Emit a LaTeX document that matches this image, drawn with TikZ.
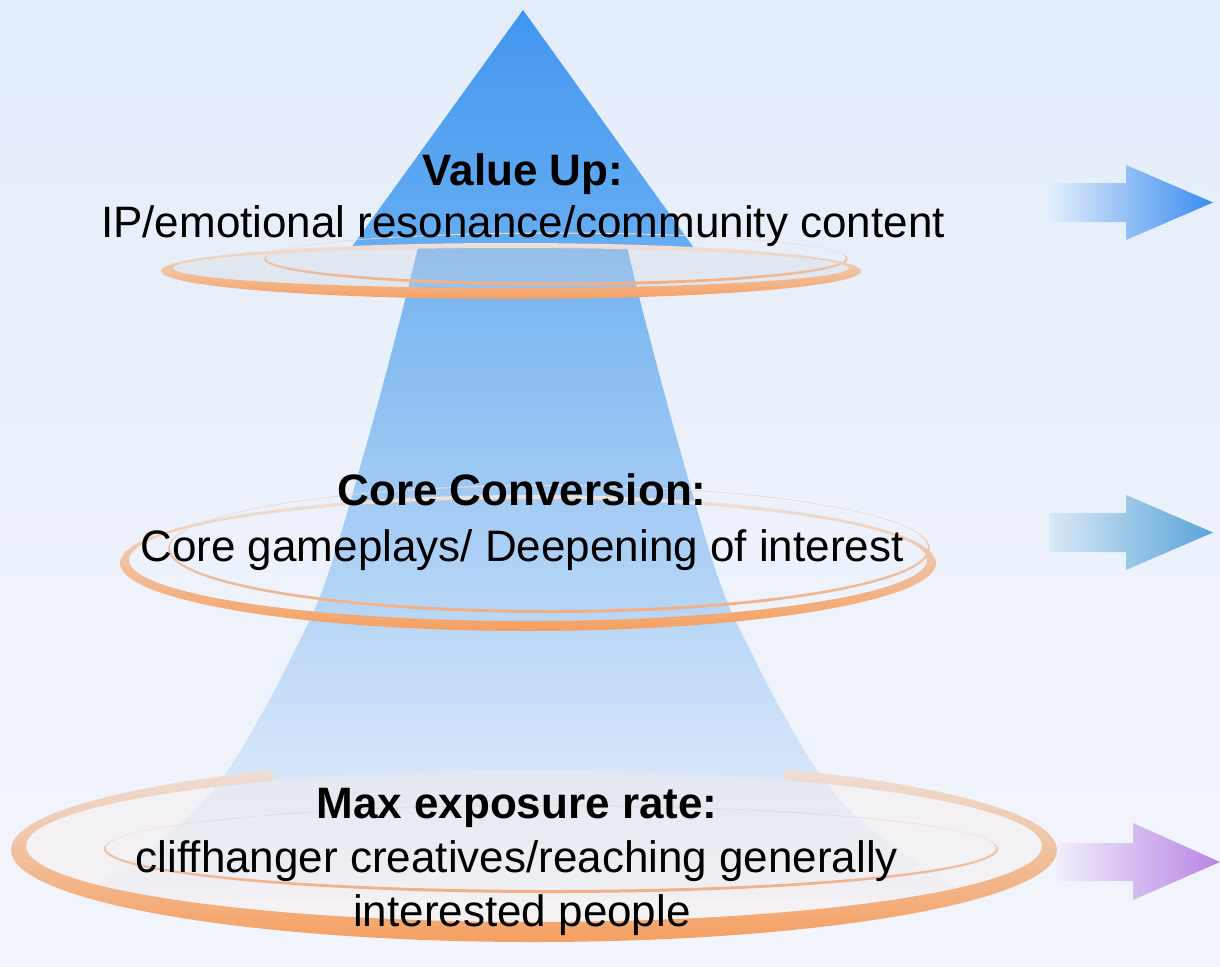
\documentclass[tikz,border=0pt]{standalone}
\usepackage{fontspec}
\setmainfont{Liberation Sans}
\definecolor{bgtop}{HTML}{E3EDFA}
\definecolor{bgbot}{HTML}{F3F5FC}
\definecolor{tritop}{HTML}{4296F0}
\definecolor{tribot}{HTML}{66ADF2}
\definecolor{shafttop}{HTML}{72B2F0}
\definecolor{shaftmid}{HTML}{A9CFF3}
\definecolor{shaftbot}{HTML}{EEF2FB}
\definecolor{ringback}{HTML}{EEE2DC}
\definecolor{ringmid}{HTML}{F7B68C}
\definecolor{ringfront}{HTML}{F5A062}
\definecolor{thinback}{HTML}{EEDDD4}
\definecolor{thinmid}{HTML}{F2C4A6}
\definecolor{thinfront}{HTML}{F2AE82}
\definecolor{a1l}{HTML}{E3EEFB}
\definecolor{a1m}{HTML}{A6CBF5}
\definecolor{a1r}{HTML}{3A8CF0}
\definecolor{a2l}{HTML}{D9E9F6}
\definecolor{a2m}{HTML}{A2CBEE}
\definecolor{a2r}{HTML}{58A4DA}
\definecolor{a3l}{HTML}{F1EEFB}
\definecolor{a3m}{HTML}{DDCCF3}
\definecolor{a3r}{HTML}{B784E4}
\definecolor{grayin}{HTML}{D6DAE0}
\definecolor{warmin}{HTML}{FBEDE6}
\definecolor{edgeband}{HTML}{DCE5F0}
\begin{document}
\begin{tikzpicture}[x=1pt,y=-1pt,
  lbl/.style={inner sep=0pt, font=\fontsize{44}{52}\selectfont, text=black},
  lblb/.style={inner sep=0pt, font=\fontsize{44}{52}\selectfont\bfseries, text=black},
  thickring/.style={top color=ringback, middle color=ringmid, bottom color=ringfront, even odd rule},
  thinring/.style={top color=thinback, middle color=thinmid, bottom color=thinfront, even odd rule},
  ]
\useasboundingbox (0,0) rectangle (1220,966);
% background
\shade[top color=bgtop, bottom color=bgbot] (0,0) rectangle (1220,966);
\shade[top color=bgtop, middle color=edgeband, bottom color=bgbot, opacity=.4] (1206,20) rectangle (1220,940);

% shaft
\shade[top color=shafttop, middle color=shaftmid, bottom color=shaftbot]
  plot[smooth, tension=0.6] coordinates {(418,247) (400,320) (365,450) (325,583) (290,660) (260,717) (228,770) (190,815) (130,862) (70,900)}
  -- plot[smooth, tension=0.6] coordinates {(975,900) (915,862) (855,815) (817,770) (785,717) (755,660) (720,583) (680,450) (645,320) (627,247)}
  -- cycle;

% triangle
\shade[top color=tritop, bottom color=tribot] (523,10) -- (694,248) -- (351,248) -- cycle;

% top ring
\fill[grayin, opacity=.35] (511,268) ellipse [x radius=338, y radius=20];
\shade[thinring] (556,259) ellipse [x radius=292, y radius=26.5] (556,258) ellipse [x radius=290, y radius=24.5];
\shade[thickring] (511,271) ellipse [x radius=350, y radius=28] (511,268) ellipse [x radius=338, y radius=20];

% middle ring
\shade[thinring] (549,549) ellipse [x radius=381, y radius=64] (549,548) ellipse [x radius=379, y radius=62];
\shade[thickring] (528,563) ellipse [x radius=408, y radius=68] (528,560) ellipse [x radius=399, y radius=61];

% bottom ring
\fill[warmin, opacity=.35] (534,848) ellipse [x radius=508, y radius=78];
\shade[thinring] (551,849) ellipse [x radius=447, y radius=44] (551,848) ellipse [x radius=445, y radius=42];
\begin{scope}
  \clip (0,700) rectangle (273,966) (785,700) rectangle (1220,966) (0,800) rectangle (1220,966);
  \shade[thickring] (534,850) ellipse [x radius=523, y radius=92] (534,846) ellipse [x radius=508, y radius=76];
\end{scope}

% arrows
\shade[left color=a1l, middle color=a1m, right color=a1r]
  (1049,183) -- (1126,183) -- (1126,165) -- (1213,202.5) -- (1126,240) -- (1126,222) -- (1049,222) -- cycle;
\shade[left color=a2l, middle color=a2m, right color=a2r]
  (1049,513) -- (1126,513) -- (1126,495) -- (1213,532.5) -- (1126,570) -- (1126,552) -- (1049,552) -- cycle;
\shade[left color=a3l, middle color=a3m, right color=a3r]
  (1057,843) -- (1133,843) -- (1133,823) -- (1220,862) -- (1133,900) -- (1133,881) -- (1057,881) -- cycle;

% texts
\node[lblb, anchor=base] (vu) at (523,185) {Value Up:};
\node[lbl, anchor=base] (vud) at (523,237) {IP/emotional resonance/community content};
\node[lblb, anchor=base] (cc) at (522,505) {Core Conversion:};
\node[lbl, anchor=base] (ccd) at (522,561) {Core gameplays/ Deepening of interest};
\node[lblb, anchor=base] (me) at (517,818) {Max exposure rate:};
\node[lbl, anchor=base] (med1) at (517,872) {cliffhanger creatives/reaching generally};
\node[lbl, anchor=base] (med2) at (522,926) {interested people};
\end{tikzpicture}
\end{document}
